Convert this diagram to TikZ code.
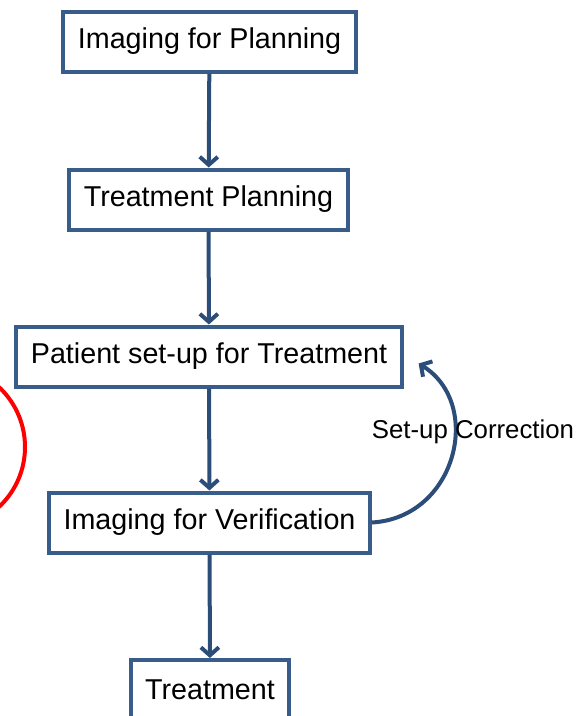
\documentclass[tikz,border=0pt]{standalone}
\usepackage{fontspec}
\setmainfont{Liberation Sans}
\usetikzlibrary{arrows.meta}
\definecolor{boxblue}{RGB}{56,93,138}
\definecolor{arrblue}{RGB}{44,77,122}
\tikzset{
  box/.style={draw=boxblue, line width=4pt, fill=white, inner xsep=14.5pt,
    minimum height=60pt, font=\fontsize{28.7}{34}\selectfont},
  flow/.style={arrblue, line width=4pt, -{Straight Barb[length=8pt,width=18pt]}},
}

\begin{document}
\begin{tikzpicture}[x=1pt, y=-1pt]
\useasboundingbox (0,0) rectangle (585,716);
\draw [red, line width=4pt] (-57,447) circle [radius=82pt];

\node (IP) at (209.5,41.5) [box] {Imaging for Planning};
\node (TP) at (208.5,199.5) [box] {Treatment Planning};
\node (PS) at (209,356.5) [box] {Patient set-up for Treatment};
\node (IV) at (209.5,522.5) [box] {Imaging for Verification};
\node (TR) at (210,690) [box] {Treatment};

\draw [flow] (IP) -> (TP);
\draw [flow] (TP) -> (PS);
\draw [flow] (PS) -> (IV);
\draw [flow] (IV) -> (TR);
\draw [flow] (IV.east) .. controls +(85,-5) and +(65,40) .. ([xshift=15pt,yshift=-7pt]PS.east);
\node (SC) at (473,432) [font=\fontsize{25.8}{30}\selectfont] {Set-up Correction};

\end{tikzpicture}
\end{document}
